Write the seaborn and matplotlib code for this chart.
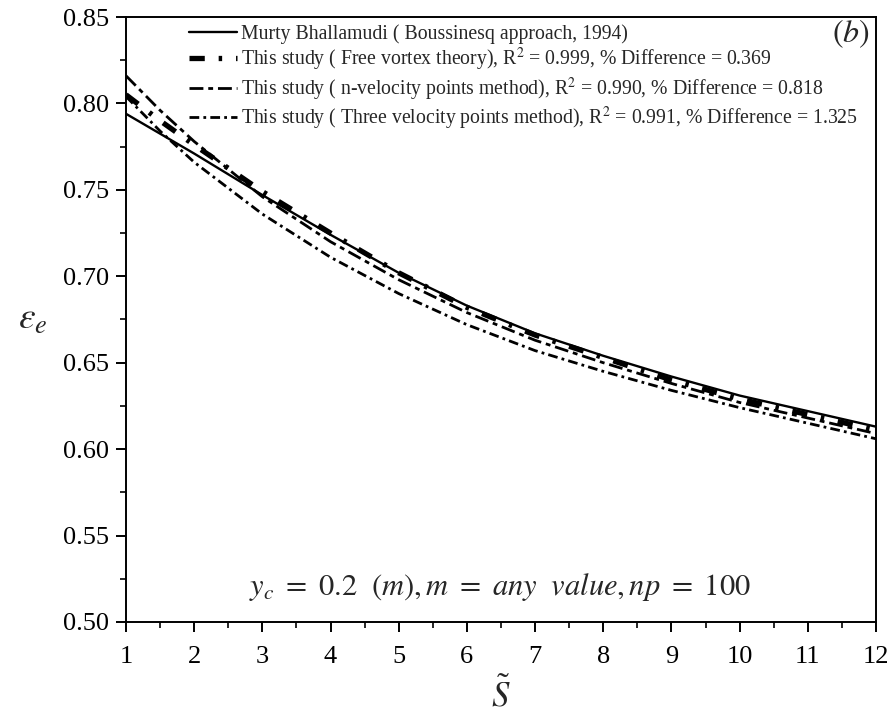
import matplotlib
matplotlib.use("Agg")
import matplotlib.pyplot as plt
import seaborn as sns
import numpy as np
import pandas as pd

# ---- data ----
S = [1, 1.5, 2, 3, 4, 5, 6, 7, 8, 9, 10, 11, 12]
murty = [0.794, 0.7825, 0.771, 0.747, 0.724, 0.702, 0.683, 0.667, 0.654, 0.642, 0.631, 0.622, 0.613]
free_vortex = [0.805, 0.790, 0.776, 0.749, 0.725, 0.702, 0.682, 0.666, 0.653, 0.640, 0.629, 0.620, 0.611]
n_velocity = [0.816, 0.796, 0.778, 0.746, 0.720, 0.698, 0.679, 0.663, 0.650, 0.638, 0.627, 0.618, 0.609]
three_velocity = [0.804, 0.784, 0.766, 0.736, 0.711, 0.690, 0.672, 0.657, 0.645, 0.634, 0.624, 0.615, 0.606]

labels = [
    "Murty Bhallamudi ( Boussinesq approach, 1994)",
    "This study ( Free vortex theory), R$^{2}$ = 0.999, % Difference = 0.369",
    "This study ( n-velocity points method), R$^{2}$ = 0.990, % Difference = 0.818",
    "This study ( Three velocity points method), R$^{2}$ = 0.991, % Difference = 1.325",
]
x_ticks = list(range(1, 13))
y_ticks = [0.50, 0.55, 0.60, 0.65, 0.70, 0.75, 0.80, 0.85]

sns.set_theme(style="ticks")
plt.rcParams["font.family"] = ["Liberation Serif", "DejaVu Serif"]
plt.rcParams["mathtext.fontset"] = "stix"
plt.rcParams["lines.scale_dashes"] = False
plt.rcParams["axes.linewidth"] = 1.4

fig = plt.figure(figsize=(8.93, 7.24), dpi=100)
ax = fig.add_axes([126 / 893, 1 - 622 / 724, 750 / 893, 605 / 724])

styles = [
    dict(linestyle="-", linewidth=1.7),
    dict(linestyle=(0, (11, 10, 2.5, 10)), linewidth=3.8),
    dict(linestyle=(0, (10, 3.5, 3.5, 3.5)), linewidth=2.0),
    dict(linestyle=(0, (7, 3, 2, 3)), linewidth=2.0),
]
series = [murty, free_vortex, n_velocity, three_velocity]
for vals, lab, st in zip(series, labels, styles):
    sns.lineplot(x=S, y=vals, ax=ax, color="black", label=lab, **st)

ax.set_xlim(1, 12)
ax.set_ylim(0.50, 0.85)
ax.set_xticks(x_ticks)
ax.set_yticks(y_ticks)
ax.set_yticklabels([f"{v:.2f}" for v in y_ticks])
ax.set_xticks(np.arange(1.5, 12, 1.0), minor=True)
ax.set_yticks(np.arange(0.525, 0.85, 0.05), minor=True)
ax.tick_params(which="major", direction="out", length=7, width=1.4,
               labelsize=19, colors="black", pad=5)
ax.tick_params(axis="x", which="major", pad=10)
ax.tick_params(which="minor", direction="out", length=4, width=1.4)
for sp in ax.spines.values():
    sp.set_visible(True)
    sp.set_color("black")

ax.set_xlabel(r"$\tilde{S}$", fontsize=25, labelpad=8)
ax.set_ylabel(r"$\varepsilon_e$", fontsize=27, rotation=0, labelpad=22, va="center")

ax.text(0.499, 0.058, r"$y_c\ =\ 0.2\ \ (m), m\ =\ any\ \ value, np\ =\ 100$",
        transform=ax.transAxes, ha="center", va="center", fontsize=22)
ax.text(0.966, 0.972, r"$(b)$", transform=ax.transAxes, ha="center",
        va="center", fontsize=23)

leg = ax.legend(loc="upper left", bbox_to_anchor=(0.075, 1.0), frameon=False,
                fontsize=14.2, handlelength=2.45, handletextpad=0.2,
                labelspacing=0.12, borderaxespad=0.15, borderpad=0.2)

fig.savefig("out.png", dpi=100)
